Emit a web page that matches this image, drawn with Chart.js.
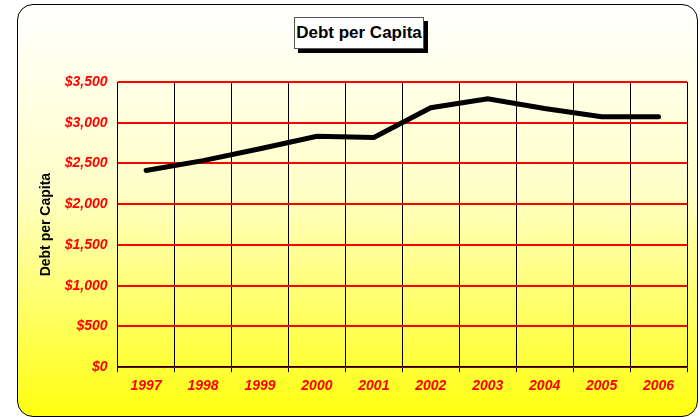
<!DOCTYPE html>
<html>
<head>
<meta charset="utf-8">
<script src="https://cdn.jsdelivr.net/npm/chart.js@4"></script>
<style>
  body { margin: 0; background: #fff; }
  #wrap { position: relative; width: 700px; height: 417px; overflow: hidden; }
  #panel {
    position: absolute; left: 17px; top: 4px; width: 679px; height: 411px;
    border: 1.5px solid #000; border-radius: 16px;
    background: linear-gradient(#ffffff 0%, #ffffc8 45%, #ffff10 100%);
  }
  #title {
    position: absolute; left: 294px; top: 17px; width: 128px; height: 30px;
    border: 1px solid #555; background: #fff;
    box-shadow: 4px 4px 0 #000;
    font: bold 17px "Liberation Sans", Arial, sans-serif;
    line-height: 30px; text-align: center; color: #000;
  }
  canvas { position: absolute; left: 0; top: 0; }
</style>
</head>
<body>
<div id="wrap">
  <div id="panel"></div>
  <div id="title">Debt per Capita</div>
  <canvas id="debtChart" width="700" height="417"></canvas>
</div>
<script>
const years = ['1997', '1998', '1999', '2000', '2001', '2002', '2003', '2004', '2005', '2006'];
const debtPerCapita = [2415, 2535, 2680, 2835, 2820, 3185, 3295, 3175, 3075, 3075];
const yTicks = [0, 500, 1000, 1500, 2000, 2500, 3000, 3500];

const ctx = document.getElementById('debtChart').getContext('2d');
const chart = new Chart(ctx, {
    type: 'line',
    data: {
        labels: years,
        datasets: [{
            label: 'Debt per Capita',
            data: debtPerCapita,
            borderColor: '#000',
            borderWidth: 5,
            borderCapStyle: 'round',
            borderJoinStyle: 'miter',
            pointRadius: 0,
            tension: 0,
            fill: false
        }]
    },
    options: {
        responsive: false,
        animation: false,
        layout: { padding: { left: 32, right: 13, top: 82, bottom: 16 } },
        plugins: { legend: { display: false }, tooltip: { enabled: false } },
        scales: {
            x: {
                offset: true,
                grid: { offset: true, color: '#000', lineWidth: 1, tickLength: 5 },
                border: { color: '#000', width: 1.5 },
                ticks: {
                    color: '#ff0000', padding: 6,
                    font: { family: 'Liberation Sans', size: 14, weight: 'bold', style: 'italic' }
                }
            },
            y: {
                min: 0,
                max: 3500,
                afterBuildTicks: axis => { axis.ticks = yTicks.map(v => ({ value: v })); },
                grid: { color: '#ff0000', lineWidth: 2, drawTicks: false },
                border: { color: '#000', width: 1 },
                ticks: {
                    color: '#ff0000', padding: 10,
                    font: { family: 'Liberation Sans', size: 14, weight: 'bold', style: 'italic' },
                    callback: v => '$' + v.toLocaleString('en-US')
                },
                title: {
                    display: true, text: 'Debt per Capita', color: '#000',
                    padding: { top: 6, bottom: 0 },
                    font: { family: 'Liberation Sans', size: 14, weight: 'bold' }
                }
            }
        }
    }
});
</script>
</body>
</html>
